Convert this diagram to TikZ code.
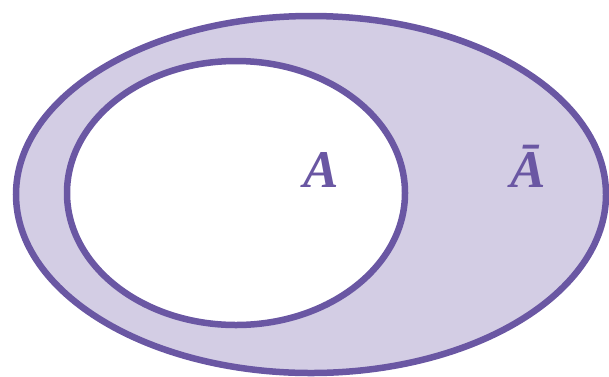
\documentclass[tikz,border=0pt]{standalone}
\usepackage{fontspec}
\setmainfont{Liberation Serif}
\definecolor{vstroke}{RGB}{106,87,163}
\definecolor{vfill}{RGB}{211,205,228}
\begin{document}
\begin{tikzpicture}[x=1pt,y=-1pt,
  setline/.style={draw=vstroke,line width=6.5pt},
  setlabel/.style={text=vstroke,font=\fontsize{53}{53}\selectfont\bfseries\itshape,inner sep=0pt}]
\useasboundingbox (0,0) rectangle (609,376);
\path[setline,fill=vfill] (311,194.5) ellipse [x radius=295,y radius=178.5];
\path[setline,fill=white] (236,193) ellipse [x radius=169,y radius=132];
\node[setlabel,anchor=base] (a) at (321,187.5) {A};
\node[setlabel,anchor=base] (abar) at (528,187.5) {\=A};
\end{tikzpicture}
\end{document}
